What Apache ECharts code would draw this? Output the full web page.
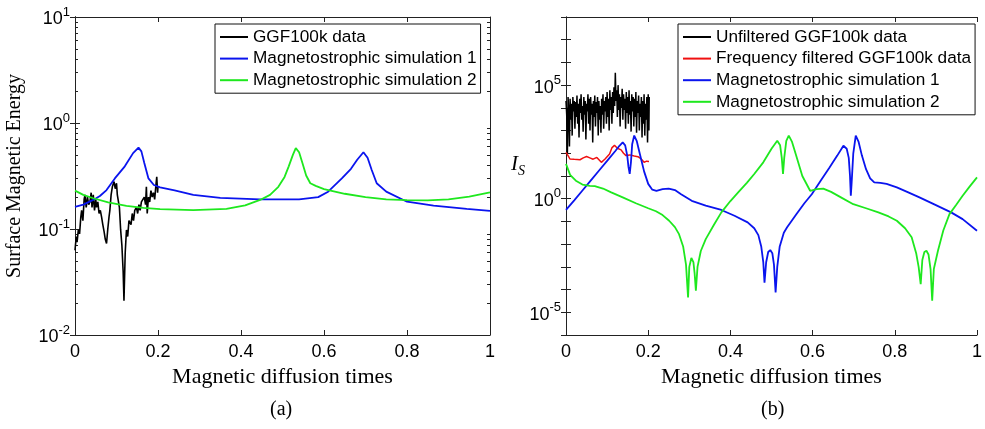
<!DOCTYPE html>
<html>
<head>
<meta charset="utf-8">
<script src="https://cdn.jsdelivr.net/npm/echarts@6/dist/echarts.min.js"></script>
<style>
  html, body { margin: 0; padding: 0; background: #fff; }
  #energy-chart { width: 985px; height: 429px; }
</style>
</head>
<body>
<div id="energy-chart"></div>
<script>
// panel (a): surface magnetic energy, [time, value]
var ggf_a = [
  [0,0.063],[0.003,0.085],[0.005,0.075],[0.008,0.098],[0.011,0.09],[0.014,0.13],[0.016,0.15],[0.019,0.12],
  [0.022,0.19],[0.024,0.21],[0.027,0.16],[0.03,0.2],[0.033,0.17],[0.036,0.18],[0.039,0.22],[0.041,0.16],
  [0.044,0.21],[0.047,0.15],[0.05,0.19],[0.052,0.16],[0.055,0.18],[0.058,0.14],[0.061,0.15],[0.064,0.13],
  [0.067,0.11],[0.07,0.095],[0.073,0.08],[0.076,0.073],[0.079,0.1],[0.082,0.13],[0.084,0.15],[0.087,0.21],
  [0.09,0.25],[0.094,0.28],[0.097,0.24],[0.1,0.27],[0.102,0.21],[0.104,0.21],[0.107,0.16],[0.11,0.098],
  [0.113,0.07],[0.116,0.04],[0.118,0.021],[0.121,0.06],[0.124,0.098],[0.127,0.085],[0.13,0.12],[0.132,0.125],
  [0.135,0.11],[0.138,0.14],[0.141,0.12],[0.144,0.15],[0.148,0.16],[0.151,0.14],[0.154,0.17],[0.157,0.15],
  [0.16,0.18],[0.164,0.18],[0.167,0.2],[0.17,0.17],[0.172,0.25],[0.174,0.14],[0.177,0.2],[0.18,0.18],
  [0.183,0.23],[0.186,0.2],[0.189,0.22],[0.192,0.19],[0.195,0.26],[0.197,0.31],[0.199,0.22],[0.2,0.25]
];
var sim1_a = [
  [0,0.162],[0.02,0.17],[0.044,0.188],[0.06,0.205],[0.076,0.233],[0.096,0.3],[0.12,0.39],[0.14,0.52],
  [0.153,0.585],[0.16,0.54],[0.167,0.42],[0.177,0.3],[0.19,0.26],[0.205,0.247],[0.24,0.232],[0.285,0.21],
  [0.35,0.197],[0.446,0.19],[0.54,0.19],[0.586,0.2],[0.61,0.225],[0.643,0.3],[0.665,0.37],[0.68,0.45],
  [0.695,0.53],[0.705,0.47],[0.715,0.36],[0.727,0.27],[0.75,0.225],[0.8,0.181],[0.864,0.166],[0.944,0.155],[1,0.148]
];
var sim2_a = [
  [0,0.23],[0.02,0.21],[0.044,0.195],[0.08,0.178],[0.124,0.165],[0.165,0.158],[0.205,0.154],[0.285,0.151],
  [0.365,0.155],[0.41,0.167],[0.446,0.188],[0.47,0.21],[0.49,0.25],[0.505,0.31],[0.515,0.39],[0.525,0.5],
  [0.532,0.58],[0.54,0.53],[0.548,0.42],[0.557,0.32],[0.567,0.27],[0.58,0.255],[0.6,0.238],[0.65,0.215],
  [0.7,0.2],[0.75,0.19],[0.8,0.187],[0.85,0.186],[0.9,0.19],[0.95,0.202],[1,0.222]
];

// panel (b): I_S, [time, value]
var ggf_b = [
  [0,2e4],[0.0017,5e3],[0.0034,1e2],[0.005,3e4],[0.0067,8e3],[0.0084,2e2],[0.01,2.5e4],[0.0117,3e3],
  [0.0134,1.5e4],[0.015,6e2],[0.0167,3e4],[0.0184,7e3],[0.02,2e4],[0.0217,1.2e3],[0.0234,1.8e4],[0.025,4e3],
  [0.0267,3.5e4],[0.0284,2e3],[0.03,1.5e4],[0.0317,5e2],[0.0334,2.5e4],[0.035,6e3],[0.0367,4e4],[0.0384,3e3],
  [0.04,1.2e4],[0.0417,9e2],[0.0434,3e4],[0.045,5e3],[0.0467,2e4],[0.0484,4e2],[0.05,1.5e4],[0.0517,7e3],
  [0.0534,4e4],[0.055,2e3],[0.0567,2.5e4],[0.0584,1e3],[0.06,3e4],[0.0617,5e3],[0.0634,1.5e4],[0.065,3e2],
  [0.0667,2e4],[0.0684,4e3],[0.07,3.5e4],[0.0717,1.5e3],[0.0734,1.8e4],[0.075,6e3],[0.0767,3e4],[0.0784,6e2],
  [0.08,2e4],[0.0817,3e3],[0.0834,1.2e4],[0.085,8e2],[0.0867,2.5e4],[0.0884,5e3],[0.09,4e4],[0.0917,1.2e3],
  [0.0934,2e4],[0.095,7e3],[0.0967,3e4],[0.0984,2e3],[0.1,5e4],[0.1017,4e3],[0.1034,2.5e4],[0.105,1e3],
  [0.1067,6e4],[0.1084,8e3],[0.11,3e4],[0.1117,2e3],[0.1134,5e4],[0.115,6e3],[0.1167,8e4],[0.1184,1.2e4],
  [0.12,3.5e5],[0.1217,2e4],[0.1234,6e4],[0.125,4e3],[0.1267,1e5],[0.1284,8e3],[0.13,4e4],[0.1317,1.5e3],
  [0.1334,3e4],[0.135,1e4],[0.1367,7e4],[0.1384,3e3],[0.14,4e4],[0.1417,8e3],[0.1434,2.5e4],[0.145,1.2e3],
  [0.1467,5e4],[0.1484,6e3],[0.15,3e4],[0.1517,2e3],[0.1534,6e4],[0.155,5e3],[0.1567,2e4],[0.1584,9e2],
  [0.16,4e4],[0.1617,7e3],[0.1634,3e4],[0.165,1.5e3],[0.1667,2.5e4],[0.1684,4e3],[0.17,5e4],[0.1717,8e2],
  [0.1734,2e4],[0.175,6e3],[0.1767,3.5e4],[0.1784,1e3],[0.18,1.5e4],[0.1817,4e3],[0.1834,3e4],[0.185,5e2],
  [0.1867,2e4],[0.1884,2e3],[0.19,4e4],[0.1917,6e2],[0.1934,1.5e4],[0.195,3e3],[0.1967,3e4],[0.1984,3e2],
  [0.2,4e4],[0.2017,1e3],[0.2025,3e4]
];
var ggf_filt_b = [
  [0,110],[0.005,79],[0.0096,56],[0.02,54],[0.034,52],[0.042,63],[0.05,72],[0.058,63],[0.066,55],
  [0.075,66],[0.086,40],[0.095,56],[0.106,93],[0.112,178],[0.118,224],[0.125,166],[0.134,141],[0.14,100],
  [0.146,79],[0.155,85],[0.166,76],[0.175,71],[0.183,56],[0.19,40],[0.196,45],[0.202,44]
];
var sim1_b = [
  [0,0.32],[0.02,0.85],[0.04,2.3],[0.06,6.3],[0.08,17],[0.1,46],[0.12,126],[0.13,214],[0.138,302],
  [0.144,224],[0.149,79],[0.152,25],[0.155,12.3],[0.158,40],[0.161,251],[0.166,603],[0.172,355],[0.18,89],
  [0.19,16],[0.2,4.5],[0.21,2.5],[0.22,2.24],[0.235,2.63],[0.25,2.8],[0.265,2.4],[0.28,1.58],[0.306,0.81],
  [0.34,0.5],[0.378,0.32],[0.41,0.178],[0.442,0.091],[0.458,0.05],[0.468,0.025],[0.475,0.0079],[0.48,0.0016],
  [0.483,0.0002],[0.487,0.0016],[0.492,0.0045],[0.497,0.0055],[0.502,0.004],[0.506,0.00126],[0.51,0.000074],
  [0.514,0.001],[0.52,0.0079],[0.53,0.032],[0.538,0.055],[0.56,0.2],[0.58,0.63],[0.598,1.58],[0.62,6.3],
  [0.64,22],[0.66,79],[0.675,214],[0.683,158],[0.688,63],[0.691,10],[0.693,1.35],[0.695,5],[0.699,100],
  [0.705,603],[0.712,316],[0.72,79],[0.73,20],[0.74,7.9],[0.75,5.2],[0.765,5],[0.78,4.5],[0.805,3.16],
  [0.83,2],[0.86,1.15],[0.9,0.52],[0.937,0.25],[0.965,0.126],[1,0.039]
];
var sim2_b = [
  [0,34],[0.01,11.2],[0.024,6.2],[0.04,4.2],[0.058,3.7],[0.07,3.6],[0.09,2.8],[0.11,1.9],[0.138,1.15],
  [0.17,0.63],[0.2,0.38],[0.219,0.28],[0.235,0.19],[0.251,0.107],[0.265,0.056],[0.275,0.0275],[0.285,0.0079],
  [0.292,0.00126],[0.297,0.000045],[0.3,0.001],[0.305,0.00245],[0.31,0.0016],[0.313,0.0005],[0.316,0.000089],
  [0.32,0.001],[0.328,0.005],[0.34,0.0166],[0.36,0.071],[0.378,0.25],[0.4,0.79],[0.42,2],[0.44,5],[0.458,12.3],
  [0.48,40],[0.5,158],[0.514,355],[0.521,224],[0.525,63],[0.528,12.3],[0.531,63],[0.536,355],[0.542,603],
  [0.55,316],[0.56,79],[0.575,10],[0.594,2.24],[0.61,2.63],[0.626,2.8],[0.645,2],[0.67,1.12],[0.699,0.575],
  [0.73,0.38],[0.76,0.25],[0.785,0.166],[0.805,0.107],[0.825,0.05],[0.841,0.02],[0.852,0.004],[0.858,0.001],
  [0.863,0.000174],[0.867,0.002],[0.872,0.0045],[0.877,0.0051],[0.882,0.0035],[0.887,0.0008],[0.891,0.0000324],
  [0.895,0.0008],[0.905,0.0051],[0.918,0.04],[0.933,0.21],[0.95,0.56],[0.965,1.35],[0.982,3.4],[1,8.7]
];

// ticks
var major_a = [0.01, 0.1, 1, 10];
var minor_a = [0.02,0.03,0.04,0.05,0.06,0.07,0.08,0.09,0.2,0.3,0.4,0.5,0.6,0.7,0.8,0.9,2,3,4,5,6,7,8,9];
var major_b = [1e-6,1e-5,1e-4,1e-3,1e-2,1e-1,1,1e1,1e2,1e3,1e4,1e5,1e6,1e7,1e8];
var label_b = [1e-5, 1, 1e5];

var sans = 'Liberation Sans, Arial, sans-serif';
var serif = 'Liberation Serif, DejaVu Serif, serif';

function pow_label(v){
    var e = Math.round(Math.log(v) / Math.LN10);
    return '{b|10}{s|' + e + '}';
}
var pow_rich = {
    b: {fontSize: 18, fontFamily: sans, color: '#000', lineHeight: 23, verticalAlign: 'bottom'},
    s: {fontSize: 13, fontFamily: sans, color: '#000', lineHeight: 23, verticalAlign: 'top'}
};

function x_axis(grid, pos, show_label, name){
    return {
        type: 'value', gridIndex: grid, position: pos, min: 0, max: 1, interval: 0.2,
        name: name, nameLocation: 'middle', nameGap: 29,
        nameTextStyle: {fontFamily: serif, fontSize: 22, color: '#000'},
        axisLine: {show: true, lineStyle: {color: '#222', width: 1}},
        axisTick: {show: true, inside: true, length: 5, lineStyle: {color: '#222'}},
        axisLabel: {show: show_label, margin: 8, fontFamily: sans, fontSize: 18, color: '#000',
            formatter: function(v){ return String(v); }},
        splitLine: {show: false}
    };
}

function y_axis(grid, pos, lo, hi, ticks, labels, len){
    return {
        type: 'log', logBase: 10, gridIndex: grid, position: pos, min: lo, max: hi,
        axisLine: {show: true, lineStyle: {color: '#222', width: 1}},
        axisTick: {show: true, inside: true, length: len, customValues: ticks, lineStyle: {color: '#222'}},
        axisLabel: {show: labels != null, customValues: labels || [], margin: 5,
            formatter: pow_label, rich: pow_rich},
        splitLine: {show: false}
    };
}

function line(name, data, xi, yi, color, width){
    return {
        name: name, type: 'line', data: data, xAxisIndex: xi, yAxisIndex: yi,
        symbol: 'none', smooth: false, animation: false,
        lineStyle: {color: color, width: width}, itemStyle: {color: color}
    };
}

var legend_style = {
    orient: 'vertical', backgroundColor: '#fff', borderColor: '#111', borderWidth: 1,
    borderRadius: 0, padding: [4, 4, 4, 5], icon: 'rect', itemWidth: 28, itemHeight: 2, itemGap: 3.6,
    textStyle: {fontFamily: sans, fontSize: 17.2, lineHeight: 18, color: '#000'}
};

var mychart = echarts.init(document.getElementById('energy-chart'));
var yl_a = y_axis(0, 'left', 0.01, 10, major_a, major_a, 5);
yl_a.name = 'Surface Magnetic Energy';
yl_a.nameLocation = 'middle';
yl_a.nameGap = 50;
yl_a.nameTextStyle = {fontFamily: serif, fontSize: 20, color: '#000'};

var option = {
    animation: false,
    backgroundColor: '#fff',
    grid: [
        {left: 75, top: 17, width: 415, height: 318},
        {left: 566, top: 17, width: 415, height: 318}
    ],
    legend: [
        echarts.util.extend({left: 215, top: 24,
            data: ['GGF100k data', 'Magnetostrophic simulation 1', 'Magnetostrophic simulation 2']}, legend_style),
        echarts.util.extend({left: 678, top: 24,
            data: ['Unfiltered GGF100k data', 'Frequency filtered GGF100k data',
                   'Magnetostrophic simulation 1', 'Magnetostrophic simulation 2']}, legend_style)
    ],
    xAxis: [
        x_axis(0, 'bottom', true, 'Magnetic diffusion times'),
        x_axis(0, 'top', false, ''),
        x_axis(1, 'bottom', true, 'Magnetic diffusion times'),
        x_axis(1, 'top', false, '')
    ],
    yAxis: [
        yl_a,
        y_axis(0, 'right', 0.01, 10, major_a, null, 5),
        y_axis(0, 'left', 0.01, 10, minor_a, null, 3),
        y_axis(0, 'right', 0.01, 10, minor_a, null, 3),
        y_axis(1, 'left', 1e-6, 1e8, major_b, label_b, 5),
        y_axis(1, 'right', 1e-6, 1e8, major_b, null, 5)
    ],
    series: [
        line('GGF100k data', ggf_a, 0, 0, '#000', 1.6),
        line('Magnetostrophic simulation 1', sim1_a, 0, 0, '#0a14ee', 1.8),
        line('Magnetostrophic simulation 2', sim2_a, 0, 0, '#1ee81e', 1.8),
        line('Unfiltered GGF100k data', ggf_b, 2, 4, '#000', 1.5),
        line('Frequency filtered GGF100k data', ggf_filt_b, 2, 4, '#f01010', 1.5),
        line('Magnetostrophic simulation 1', sim1_b, 2, 4, '#0a14ee', 1.8),
        line('Magnetostrophic simulation 2', sim2_b, 2, 4, '#1ee81e', 1.8)
    ],
    graphic: [
        {type: 'text', left: 270, top: 400, style: {text: '(a)', font: '20px ' + serif, fill: '#000'}},
        {type: 'text', left: 761, top: 400, style: {text: '(b)', font: '20px ' + serif, fill: '#000'}},
        {type: 'text', left: 511, top: 154, style: {
            text: '{i|I}{s|S}',
            rich: {
                i: {fontFamily: serif, fontStyle: 'italic', fontSize: 21, fill: '#000', lineHeight: 24, verticalAlign: 'top'},
                s: {fontFamily: serif, fontStyle: 'italic', fontSize: 14, fill: '#000', lineHeight: 24, verticalAlign: 'bottom'}
            }
        }}
    ]
};
mychart.setOption(option);
</script>
</body>
</html>
